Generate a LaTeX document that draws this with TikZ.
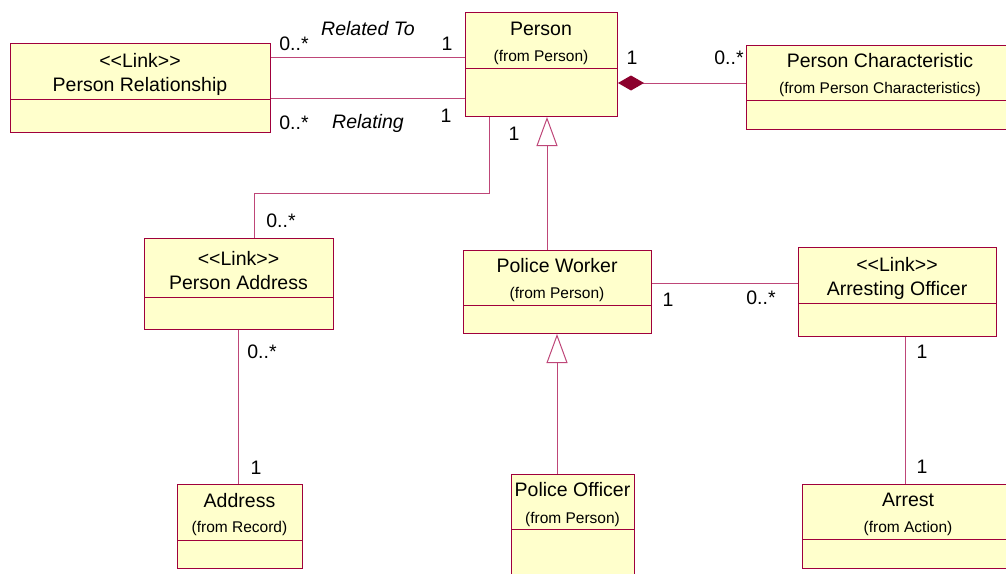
\documentclass[tikz,border=0pt]{standalone}
\usepackage{fontspec}
\setmainfont{Liberation Sans}
\usetikzlibrary{arrows.meta}
\definecolor{umlborder}{RGB}{160,0,60}
\definecolor{umlline}{RGB}{190,70,120}
\definecolor{umlfill}{RGB}{255,255,204}
\definecolor{umldiamond}{RGB}{140,0,45}
\newcommand\bigf{\fontsize{19.5}{24}\selectfont}
\newcommand\smallf{\fontsize{15.5}{20}\selectfont}
\newcommand\lnk{<{}<Link>{}>}
\tikzset{
  clsbox/.style={draw=umlborder, fill=umlfill, line width=1pt, inner sep=0pt, rectangle},
  clsdiv/.style={draw=umlborder, line width=1pt},
  clstext/.style={align=center, inner sep=0pt, font=\bigf, yshift=-3pt},
  assoc/.style={draw=umlline, line width=1pt},
  mult/.style={font=\bigf, inner sep=0pt},
  role/.style={font=\bigf\itshape, inner sep=0pt},
  gen/.style={assoc, -{Triangle[open, length=29pt, width=21pt, fill=white, line width=1pt]}},
  comp/.style={assoc, {Diamond[length=26pt, width=15pt, fill=umldiamond, color=umldiamond]}-},
}
% name, x1, y1, x2, y2, ydiv, text
\newcommand\umlclass[7]{%
  \node[clsbox, minimum width={#4-#2}, minimum height={#5-#3}, anchor=north west] (#1) at (#2,#3) {};
  \draw[clsdiv] (#2,#6) -- (#4,#6);
  \node[clstext] (#1-t) at ({(#2+#4)/2},{(#3+#6)/2}) {#7};
}
\begin{document}
\begin{tikzpicture}[x=1pt, y=-1pt]
\useasboundingbox (0,0) rectangle (1006,573);

\umlclass{pr}{10}{43}{270}{132}{99}{\bigf \lnk\\Person Relationship}
\umlclass{person}{465}{12}{617}{116}{68}{\bigf Person\\[2pt]{\smallf (from Person)}}
\umlclass{pc}{746}{45}{1014}{129}{100}{\bigf Person Characteristic\\[2pt]{\smallf (from Person Characteristics)}}
\umlclass{paddr}{144}{238}{333}{329}{297}{\bigf \lnk\\Person Address}
\umlclass{pw}{463}{250}{651}{333}{305}{\bigf Police Worker\\[2pt]{\smallf (from Person)}}
\umlclass{ao}{798}{247}{996}{336}{303}{\bigf \lnk\\Arresting Officer}
\umlclass{addr}{177}{484}{302}{568}{540}{\bigf Address\\[1pt]{\smallf (from Record)}}
\umlclass{po}{511}{474}{634}{590}{529}{\bigf Police Officer\\[3pt]{\smallf (from Person)}}
\umlclass{arrest}{802}{484}{1014}{568}{539}{\bigf Arrest\\[2pt]{\smallf (from Action)}}

% Person Relationship -- Person
\draw[assoc] (pr.east |- 0,57) -- (person.west |- 0,57);
\draw[assoc] (pr.east |- 0,98) -- (person.west |- 0,98);
\node[mult] (m1) at (294,44) {0..*};
\node[role] (r1) at (368,29) {Related To};
\node[mult] (m2) at (447,44) {1};
\node[mult] (m3) at (294,123) {0..*};
\node[role] (r2) at (368,123) {Relating};
\node[mult] (m4) at (446,116) {1};

% Composition Person -- Person Characteristic
\draw[comp] (person.east |- 0,83) -- (pc.west |- 0,83);
\node[mult] (m5) at (632,58) {1};
\node[mult] (m6) at (729,58) {0..*};

% Person -- Person Address
\draw[assoc] (person.south -| 489,0) -- (489,193) -- (254,193) -- (paddr.north -| 254,0);
\node[mult] (m7) at (514,134) {1};
\node[mult] (m8) at (281,221) {0..*};

% Generalizations
\draw[gen] (pw.north -| 547,0) -- (person.south -| 547,0);
\draw[gen] (po.north -| 557,0) -- (pw.south -| 557,0);

% Person Address -- Address
\draw[assoc] (paddr.south -| 238,0) -- (addr.north -| 238,0);
\node[mult] (m9) at (262,352) {0..*};
\node[mult] (m10) at (256,468) {1};

% Police Worker -- Arresting Officer
\draw[assoc] (pw.east |- 0,283) -- (ao.west |- 0,283);
\node[mult] (m11) at (668,300) {1};
\node[mult] (m12) at (761,298) {0..*};

% Arresting Officer -- Arrest
\draw[assoc] (ao.south -| 905,0) -- (arrest.north -| 905,0);
\node[mult] (m13) at (922,352) {1};
\node[mult] (m14) at (922,467) {1};
\end{tikzpicture}
\end{document}
